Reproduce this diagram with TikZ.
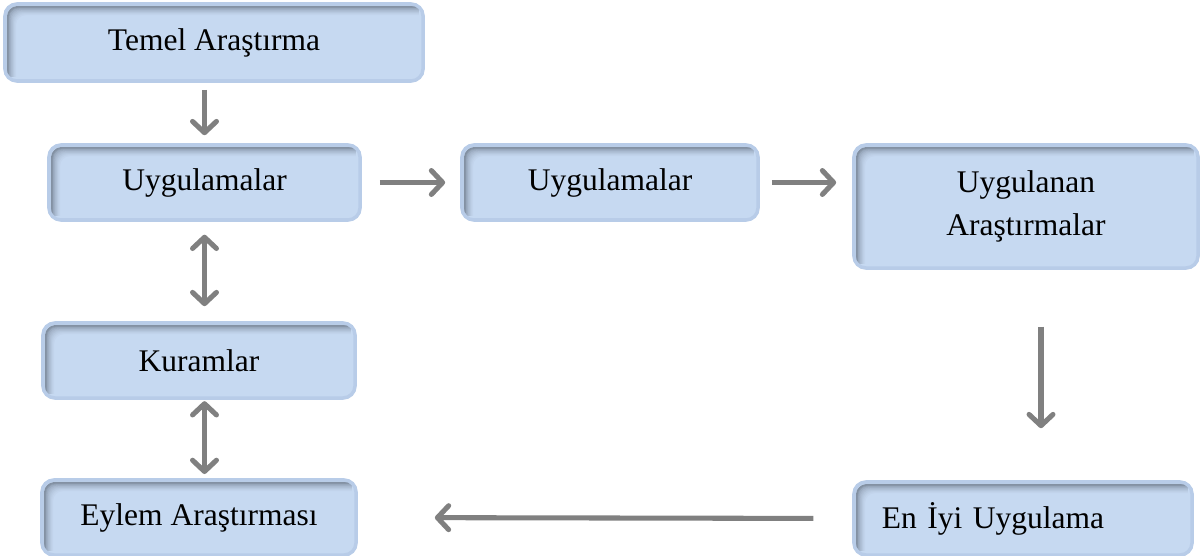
\documentclass[tikz,border=0pt]{standalone}
\usepackage{fontspec}
\setmainfont{Liberation Serif}
\usetikzlibrary{arrows.meta}
\definecolor{boxfill}{HTML}{C6D9F1}
\definecolor{boxrim}{HTML}{B8CCE8}
\definecolor{boxshade}{HTML}{5E6978}
\definecolor{arrowgray}{HTML}{808080}

\begin{document}
\begin{tikzpicture}
        [
            x = 0.025cm, y = -0.025cm,
            > = {Straight Barb[length=8pt, width=17pt, round]},
            box/.style = {rectangle, rounded corners=0.3cm, fill=boxfill, draw=boxrim,
                line width=2.5pt, align=center, inner sep=0pt,
                font=\fontsize{22.4}{30}\selectfont,
                path picture={
                    \foreach \off/\shd in {7.4/4, 6.6/9, 5.8/15, 5/22, 4.2/30, 3.4/40, 2.6/52, 2/64}{
                        \draw[boxshade!\shd!boxfill, line width=1.2pt, rounded corners=0.25cm]
                            ([shift={(\off pt, 3pt)}]path picture bounding box.south west)
                            |- ([shift={(-3pt, -\off pt)}]path picture bounding box.north east);
                    }
                }},
            arrow/.style = {draw=arrowgray, line width=3.6pt}
        ]
        \useasboundingbox (0, 0) rectangle (1204, 556);

        \node [box, minimum width=10.45cm, minimum height=1.925cm] at (214, 42.5) (temel) {Temel Araştırma};
        \node [box, minimum width=7.775cm, minimum height=1.875cm] at (204.5, 182.5) (uyg1) {Uygulamalar};
        \node [box, minimum width=7.4cm, minimum height=1.875cm] at (610, 182.5) (uyg2) {Uygulamalar};
        \node [box, minimum width=8.6cm, minimum height=3.075cm] at (1026, 206.5) (uygulanan) {Uygulanan\\Araştırmalar};
        \node [box, minimum width=7.8cm, minimum height=1.875cm] at (199, 360.5) (kuram) {Kuramlar};
        \node [box, minimum width=7.85cm, minimum height=1.875cm] at (199, 517.5) (eylem) {Eylem Araştırması};
        \node [box, align=left, text width=7.05cm, inner xsep=0.7cm, minimum height=1.825cm] at (1023, 518.5) (eniyi) {En İyi Uygulama};

        \draw[arrow, ->, shorten <=5pt, shorten >=5.7pt] (temel.south -| uyg1.north) -- (uyg1.north);
        \draw[arrow, ->, shorten <=12.8pt, shorten >=10.7pt] (uyg1.east) -- (uyg2.west);
        \draw[arrow, ->, shorten <=8.5pt, shorten >=11.4pt] (uyg2.east) -- (uyg2.east -| uygulanan.west);
        \draw[arrow, <->, shorten <=9.2pt, shorten >=10.7pt] (uyg1.south) -- (uyg1.south |- kuram.north);
        \draw[arrow, <->, shorten <=1pt, shorten >=3pt] (kuram.south -| uyg1.south) -- (eylem.north -| uyg1.south);
        \draw[arrow, ->, shorten <=40.5pt, shorten >=37pt] ([xshift=0.375cm]uygulanan.south) -- ([xshift=0.375cm]uygulanan.south |- eniyi.north);
        \draw[arrow, ->, shorten <=27.7pt, shorten >=54.8pt] (eniyi.west) -- (eylem.east);
    \end{tikzpicture}
\end{document}
